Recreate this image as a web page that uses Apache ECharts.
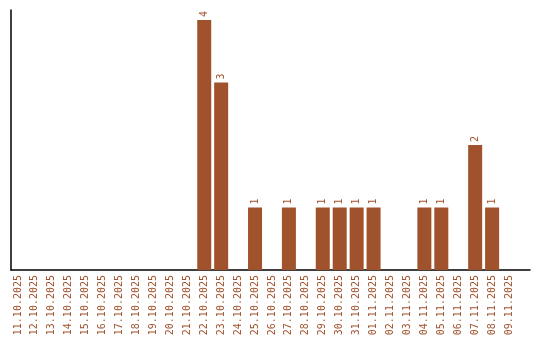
<!DOCTYPE html>
<html><head><meta charset="utf-8">
<script src="https://cdn.jsdelivr.net/npm/echarts@6/dist/echarts.min.js"></script>
<style>html,body{margin:0;padding:0;background:#fff}#c{width:540px;height:340px}</style>
</head><body><div id="c"></div>
<script>
var categories = ['11.10.2025','12.10.2025','13.10.2025','14.10.2025','15.10.2025','16.10.2025','17.10.2025','18.10.2025','19.10.2025','20.10.2025','21.10.2025','22.10.2025','23.10.2025','24.10.2025','25.10.2025','26.10.2025','27.10.2025','28.10.2025','29.10.2025','30.10.2025','31.10.2025','01.11.2025','02.11.2025','03.11.2025','04.11.2025','05.11.2025','06.11.2025','07.11.2025','08.11.2025','09.11.2025'];
var values = [0,0,0,0,0,0,0,0,0,0,0,4,3,0,1,0,1,0,1,1,1,1,0,0,1,1,0,2,1,0];
var color = '#A0522D';
var font = 'DejaVu Sans Mono';
var chart = echarts.init(document.getElementById('c'), null, {renderer:'canvas'});
chart.setOption({
  animation:false,
  grid:[
    {left:9.5, width:508, top:10, bottom:70},
    {left:11, right:10, top:10, bottom:70}
  ],
  xAxis:[
    {type:'category', gridIndex:0, data:categories, axisLine:{show:false}, axisTick:{show:false},
     axisLabel:{rotate:90, interval:0, margin:5, color:color, fontFamily:font, fontSize:10}},
    {type:'value', gridIndex:1, min:0, max:1, axisLine:{show:true, onZero:false, lineStyle:{color:'#000', width:1.5}},
     axisTick:{show:false}, axisLabel:{show:false}, splitLine:{show:false}}
  ],
  yAxis:[
    {type:'value', gridIndex:0, min:0, max:4.16, axisLine:{show:false}, axisTick:{show:false}, axisLabel:{show:false}, splitLine:{show:false}},
    {type:'value', gridIndex:1, min:0, max:1, axisLine:{show:true, onZero:false, lineStyle:{color:'#000', width:1.5}},
     axisTick:{show:false}, axisLabel:{show:false}, splitLine:{show:false}}
  ],
  series:[{
    type:'bar', xAxisIndex:0, yAxisIndex:0,
    data: values.map(function(v){return v===0?null:v;}),
    barWidth:14,
    itemStyle:{color:color},
    label:{show:true, position:'top', rotate:90, align:'left', verticalAlign:'middle', distance:3,
      color:color, fontFamily:font, fontSize:10}
  }]
});
</script></body></html>
